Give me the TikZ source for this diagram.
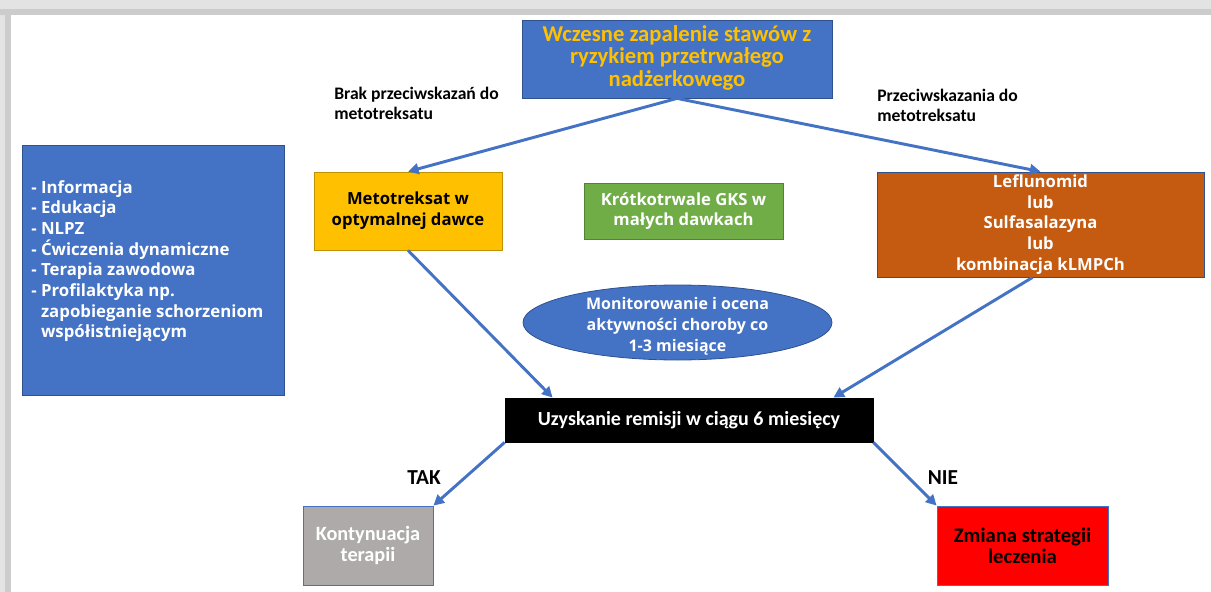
\documentclass[tikz,border=0pt]{standalone}
\usepackage{fontspec}
\setmainfont{Carlito}
\newfontfamily\segoe{Open Sans}
\usetikzlibrary{arrows.meta,shapes.geometric}

\definecolor{officeblue}{HTML}{4472C4}
\definecolor{officeedge}{HTML}{2F528F}
\definecolor{gold}{HTML}{FFC000}
\definecolor{leafgreen}{HTML}{70AD47}
\definecolor{rust}{HTML}{C55A11}
\definecolor{stone}{HTML}{AEAAAA}
\definecolor{alarm}{HTML}{FF0000}
\newcommand{\px}{0.75pt}

\begin{document}
\begin{tikzpicture}[x=\px, y=-\px,
  box/.style={fill=#1, draw=#1!75!black, line width=0.6pt, inner sep=2pt, align=center},
  size/.style 2 args={minimum width=#1*\px, minimum height=#2*\px},
  seg/.style={font=\segoe\bfseries\fontsize{#1}{15.5}\selectfont},
  seg/.default=12.5,
  cal/.style={font=\bfseries\fontsize{#1}{16}\selectfont},
  flow/.style={officeblue, line width=2.2pt, -{Triangle[length=8pt,width=8pt]}}]
  \useasboundingbox (0,0) rectangle (1211,592);

  % Window shadow
  \fill[gray!22] (0,0) rectangle (1211,15);
  \fill[gray!22] (0,0) rectangle (11,592);
  \fill[gray!40] (0,9) rectangle (1211,15);
  \fill[gray!40] (5,9) rectangle (11,592);

  % Define coordinates
  \coordinate (T) at (677,59);
  \coordinate (M) at (408,211);
  \coordinate (G) at (683.5,211);
  \coordinate (L) at (1040.5,224.5);
  \coordinate (I) at (153,270);
  \coordinate (E) at (677.5,322.5);
  \coordinate (R) at (689,420);
  \coordinate (K) at (368,545.5);
  \coordinate (Z) at (1022.5,545.5);

  % Boxes
  \node[box=officeblue, draw=officeedge, size={310}{78}, text depth=6*\px,
        text=gold, font=\bfseries\fontsize{17}{17}\selectfont] (title) at (T)
        {Wczesne zapalenie stawów z\\ryzykiem przetrwałego\\nadżerkowego};
  \node[box=gold, seg, size={188}{78}] (meto) at (M)
        {Metotreksat w\\optymalnej dawce};
  \node[box=leafgreen, seg, text=white, size={199}{56}] (gks) at (G)
        {Krótkotrwale GKS w\\małych dawkach};
  \node[box=rust, draw=officeedge, seg, text=white, size={327}{105}] (lef) at (L)
        {Leflunomid\\lub\\Sulfasalazyna\\lub\\kombinacja kLMPCh};
  \node[box=officeblue, draw=officeedge, size={262}{250}] (info) at (I) {};
  \node[text=white, align=left, anchor=north west, inner sep=0pt,
        font=\segoe\bfseries\fontsize{12.6}{15.5}\selectfont] (infotext) at (31,180)
        {- Informacja\\- Edukacja\\- NLPZ\\- Ćwiczenia dynamiczne\\- Terapia zawodowa\\
         - Profilaktyka np.\\\hphantom{- }zapobieganie schorzeniom\\\hphantom{- }współistniejącym};
  \node[ellipse, box=officeblue, draw=officeedge, seg=12, text=white, size={309}{75},
        inner sep=0pt] (monitor) at (E) {};
  \node[text=white, seg=12, align=center, inner sep=0pt] (monitortext) at ([yshift=-4*\px]monitor.center)
        {Monitorowanie i ocena\\aktywności choroby co\\1-3 miesiące};
  \node[box=black, text=white, cal=15, size={368}{44}] (result) at (R)
        {Uzyskanie remisji w ciągu 6 miesięcy};
  \node[box=stone, draw=officeblue, text=white, cal=15.2, size={130}{79}] (cont) at (K)
        {Kontynuacja\\terapii};
  \node[box=alarm, draw=officeblue, cal=15.5, size={171}{79}] (change) at (Z)
        {Zmiana strategii\\leczenia};

  % Labels
  \node[font=\bfseries\fontsize{13.2}{15}\selectfont, align=left, anchor=north west,
        inner sep=0pt] (nocontra) at (334,87)
        {Brak przeciwskazań do\\metotreksatu};
  \node[font=\bfseries\fontsize{13.2}{15}\selectfont, align=left, anchor=north west,
        inner sep=0pt] (contra) at (877,89)
        {Przeciwskazania do\\metotreksatu};
  \node[cal=16] (yes) at (424,478) {TAK};
  \node[cal=16] (no) at (943,478) {NIE};

  % Arrows
  \draw[flow] (title.south) -- (meto.north);
  \draw[flow] (title.south) -- (lef.north);
  \draw[flow] (meto.south) -- ([xshift=48*\px]result.north west);
  \draw[flow] ([xshift=-8*\px]lef.south) -- ([xshift=-40*\px]result.north east);
  \draw[flow] (result.south west) -- (cont.north east);
  \draw[flow] (result.south east) -- (change.north west);
\end{tikzpicture}
\end{document}
